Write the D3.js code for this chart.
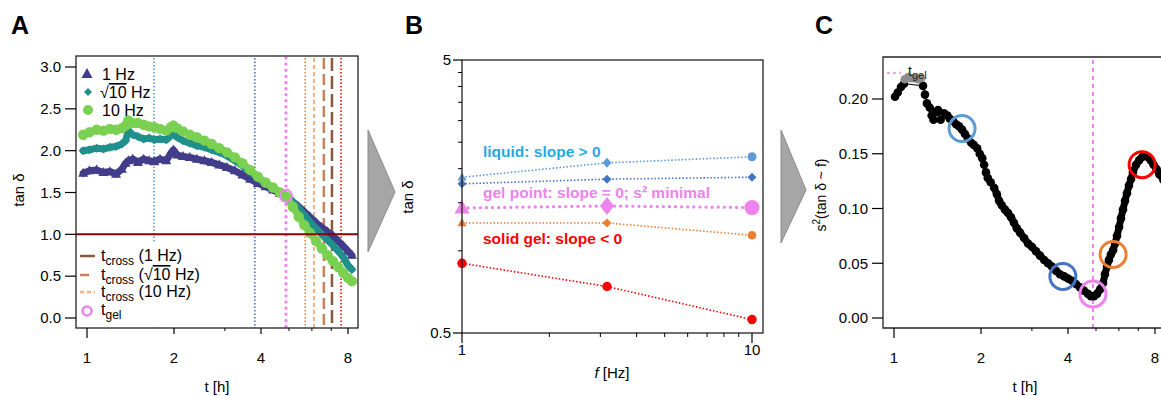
<!DOCTYPE html>
<html>
<head>
<meta charset="utf-8">
<script src="https://cdn.jsdelivr.net/npm/d3@7"></script>
<style>
    body { margin: 0; background: #fff; }
    svg { font-family: Arial, 'Liberation Sans', sans-serif; }
</style>
</head>
<body>
<script>
// panel A: tan delta over time, three frequencies
var timeA = [0.97, 1.02, 1.08, 1.14, 1.2, 1.26, 1.32, 1.36, 1.39, 1.44, 1.5, 1.57, 1.64, 1.71, 1.79, 1.88, 1.95, 1.99, 2.05, 2.15, 2.27, 2.4, 2.55, 2.7, 2.87, 3.05, 3.25, 3.45, 3.67, 3.9, 4.15, 4.4, 4.65, 4.9, 5.15, 5.4, 5.65, 5.9, 6.2, 6.5, 6.8, 7.1, 7.4, 7.7, 8.0, 8.25]
var tan1Hz = [1.73, 1.76, 1.77, 1.74, 1.75, 1.72, 1.78, 1.85, 1.88, 1.90, 1.86, 1.90, 1.88, 1.87, 1.90, 1.88, 1.97, 2.01, 1.95, 1.93, 1.92, 1.90, 1.88, 1.86, 1.83, 1.80, 1.76, 1.71, 1.66, 1.61, 1.57, 1.53, 1.49, 1.45, 1.39, 1.33, 1.27, 1.21, 1.14, 1.08, 1.03, 0.98, 0.92, 0.86, 0.80, 0.75]
var tanSqrt10Hz = [2.00, 2.01, 2.03, 2.02, 2.04, 2.05, 2.08, 2.12, 2.24, 2.19, 2.17, 2.14, 2.15, 2.13, 2.14, 2.13, 2.18, 2.20, 2.16, 2.12, 2.09, 2.06, 2.04, 2.01, 1.98, 1.94, 1.88, 1.82, 1.75, 1.67, 1.61, 1.55, 1.50, 1.45, 1.39, 1.31, 1.23, 1.15, 1.07, 1.00, 0.93, 0.87, 0.80, 0.73, 0.63, 0.58]
var tan10Hz = [2.19, 2.22, 2.25, 2.24, 2.26, 2.25, 2.27, 2.30, 2.36, 2.33, 2.33, 2.31, 2.29, 2.28, 2.26, 2.24, 2.28, 2.30, 2.27, 2.23, 2.19, 2.16, 2.12, 2.08, 2.03, 1.98, 1.92, 1.85, 1.77, 1.69, 1.62, 1.56, 1.50, 1.45, 1.33, 1.21, 1.11, 1.02, 0.92, 0.83, 0.75, 0.68, 0.61, 0.54, 0.48, 0.44]

// time markers drawn as vertical lines in A
var markerNames = ['liquid', 'liquid2', 'gel', 'before', 'cross10', 'crossSqrt10', 'cross1', 'solid']
var markerTimes = [1.705, 3.81, 4.88, 5.69, 6.1, 6.6, 7.04, 7.57]
var tGel = 4.88
var tanGel = 1.46
var tanCrossLevel = 1.0

var ticksA = [0, 0.5, 1.0, 1.5, 2.0, 2.5, 3.0]
var ticksTime = [1, 2, 4, 8]
var minorTime = [3, 5, 6, 7]

// panel B: tan delta against frequency at chosen times
var freqs = [1, Math.sqrt(10), 10]
var liquidA = [1.86, 2.10, 2.21]
var liquidB = [1.76, 1.83, 1.86]
var gelPoint = [1.435, 1.46, 1.44]
var nearGel = [1.265, 1.265, 1.14]
var solidGel = [0.90, 0.74, 0.56]
var ticksB = [0.5, 5]
var minorB = [1, 1.5, 2, 2.5, 3, 3.5, 4, 4.5]
var minorFreq = [2, 3, 4, 5, 6, 7, 8, 9]

// panel C: variance of tan delta across frequency
var timeCgrey = [1.09, 1.12, 1.15, 1.18, 1.21, 1.24]
var s2Cgrey = [0.218, 0.220, 0.219, 0.219, 0.218, 0.219]
var timeC = [1.008, 1.03, 1.057, 1.083, 1.26, 1.28, 1.30, 1.33, 1.35, 1.37, 1.40, 1.42, 1.45, 1.49, 1.53, 1.56, 1.60, 1.64, 1.68, 1.72, 1.76, 1.80, 1.85, 1.89, 1.94, 1.98, 2.02, 2.05, 2.08, 2.11, 2.16, 2.22, 2.27, 2.31, 2.36, 2.42, 2.48, 2.54, 2.60, 2.66, 2.73, 2.82, 2.91, 3.0, 3.10, 3.20, 3.31, 3.41, 3.52, 3.64, 3.75, 3.88, 4.0, 4.13, 4.26, 4.40, 4.54, 4.69, 4.80, 4.92, 5.04, 5.16, 5.29, 5.37, 5.46, 5.54, 5.63, 5.73, 5.82, 5.91, 6.01, 6.10, 6.20, 6.30, 6.40, 6.50, 6.61, 6.71, 6.88, 7.05, 7.22, 7.39, 7.56, 7.73, 7.91, 8.10, 8.29, 8.56]
var s2C = [0.202, 0.206, 0.211, 0.214, 0.212, 0.204, 0.196, 0.192, 0.185, 0.181, 0.188, 0.190, 0.181, 0.187, 0.185, 0.182, 0.180, 0.177, 0.175, 0.172, 0.168, 0.164, 0.160, 0.158, 0.155, 0.150, 0.146, 0.140, 0.133, 0.128, 0.124, 0.119, 0.113, 0.107, 0.103, 0.099, 0.096, 0.092, 0.087, 0.082, 0.078, 0.073, 0.068, 0.065, 0.061, 0.057, 0.053, 0.050, 0.047, 0.043, 0.040, 0.038, 0.036, 0.034, 0.031, 0.028, 0.025, 0.022, 0.020, 0.020, 0.022, 0.026, 0.032, 0.040, 0.047, 0.053, 0.058, 0.062, 0.068, 0.075, 0.083, 0.091, 0.099, 0.107, 0.114, 0.121, 0.127, 0.133, 0.140, 0.144, 0.147, 0.148, 0.147, 0.144, 0.140, 0.136, 0.131, 0.126]
var circleTimes = [1.72, 3.84, 4.88, 5.73, 7.22]
var circleS2 = [0.173, 0.038, 0.022, 0.058, 0.140]
var ticksC = [0, 0.05, 0.10, 0.15, 0.20]
// after this time the points sit so close that they form a solid band
var denseFrom = 2.2

var W = 1161, H = 396
var svg = d3.select('body').append('svg').attr('width', W).attr('height', H)

var colNavy = '#413d8b', colTeal = '#21908c', colGreen = '#7ad151'
var markerStyle = {
    liquid: {c: '#5b9bd5', w: 1.6, dash: '1.5,2', cap: 'butt'},
    liquid2: {c: '#4472c4', w: 1.6, dash: '1.5,2', cap: 'butt'},
    gel: {c: '#ee82ee', w: 3.2, dash: '0.1,6', cap: 'round'},
    before: {c: '#ed7d31', w: 1.6, dash: '1.5,2', cap: 'butt'},
    cross10: {c: '#f4b183', w: 2, dash: '4,3', cap: 'butt'},
    crossSqrt10: {c: '#c8825a', w: 2.5, dash: '11,5', cap: 'butt'},
    cross1: {c: '#8b5a3c', w: 2.5, dash: '13,5', cap: 'butt'},
    solid: {c: '#ff0000', w: 1.6, dash: '1.5,2', cap: 'butt'}
}

function triPath(w) {
    var h = w * 0.9
    return 'M0,' + (-h * 0.6) + 'L' + (w / 2) + ',' + (h * 0.4) + 'L' + (-w / 2) + ',' + (h * 0.4) + 'Z'
}
function diaPath(w, h) {
    return 'M0,' + (-h / 2) + 'L' + (w / 2) + ',0L0,' + (h / 2) + 'L' + (-w / 2) + ',0Z'
}
function cirPath(r) {
    return 'M' + (-r) + ',0A' + r + ',' + r + ' 0 1,0 ' + r + ',0A' + r + ',' + r + ' 0 1,0 ' + (-r) + ',0Z'
}

function zip(xs, ys) {
    return xs.map((x, i) => ({x: x, y: ys[i]}))
}

function panelLetter(txt, x) {
    svg.append('text').attr('x', x).attr('y', 34)
        .attr('font-size', 25).attr('font-weight', 'bold').text(txt)
}

function timeAxis(g, x, yBottom, labelY, titleX) {
    g.selectAll('line.tmaj').data(ticksTime).enter().append('line')
        .attr('x1', d => x(d)).attr('x2', d => x(d))
        .attr('y1', yBottom).attr('y2', d => yBottom + (d === 1 ? 10 : 6))
        .attr('stroke', '#000').attr('stroke-width', 1.2)
    g.selectAll('line.tmin').data(minorTime).enter().append('line')
        .attr('x1', d => x(d)).attr('x2', d => x(d))
        .attr('y1', yBottom).attr('y2', yBottom + 3)
        .attr('stroke', '#000').attr('stroke-width', 1)
    g.selectAll('text.tlab').data(ticksTime).enter().append('text')
        .attr('x', d => x(d)).attr('y', labelY).attr('text-anchor', 'middle')
        .attr('font-size', 15).text(d => d)
    g.append('text').attr('x', titleX).attr('y', 392).attr('text-anchor', 'middle')
        .attr('font-size', 15).text('t [h]')
}

// ---------------- panel A ----------------
function renderA() {
    var left = 76, right = 358, top = 56, bottom = 328
    var x = d3.scaleLog().base(2).domain([1, 8]).range([87, 348])
    var y = d3.scaleLinear().domain([0, 3]).range([318, 67])
    var g = svg.append('g')

    g.append('clipPath').attr('id', 'clipA').append('rect')
        .attr('x', left).attr('y', top).attr('width', right - left).attr('height', bottom - top)
    var plot = g.append('g').attr('clip-path', 'url(#clipA)')

    // vertical markers
    markerTimes.forEach((t, i) => {
        var s = markerStyle[markerNames[i]]
        plot.append('line').attr('x1', x(t)).attr('x2', x(t))
            .attr('y1', top + 2).attr('y2', bottom)
            .attr('stroke', s.c).attr('stroke-width', s.w).attr('stroke-dasharray', s.dash)
            .attr('stroke-linecap', s.cap)
    })

    var line = d3.line().x(d => x(d.x)).y(d => y(d.y))
    var series = [
        {data: zip(timeA, tan1Hz), c: colNavy, shape: triPath(10)},
        {data: zip(timeA, tanSqrt10Hz), c: colTeal, shape: diaPath(9, 9)},
        {data: zip(timeA, tan10Hz), c: colGreen, shape: cirPath(5.2)}
    ]
    series.forEach(s => {
        plot.append('path').datum(s.data).attr('d', line)
            .attr('fill', 'none').attr('stroke', s.c).attr('stroke-width', 7)
            .attr('stroke-linejoin', 'round').attr('stroke-linecap', 'round')
        plot.selectAll(null).data(s.data).enter().append('path')
            .attr('transform', d => 'translate(' + x(d.x) + ',' + y(d.y) + ')')
            .attr('d', s.shape).attr('fill', s.c)
    })

    // crossover level
    plot.append('line').attr('x1', left).attr('x2', right)
        .attr('y1', y(tanCrossLevel)).attr('y2', y(tanCrossLevel))
        .attr('stroke', '#8b0000').attr('stroke-width', 2)

    // gel point marker
    plot.append('circle').attr('cx', x(tGel)).attr('cy', y(tanGel)).attr('r', 6)
        .attr('fill', 'none').attr('stroke', '#ee82ee').attr('stroke-width', 2)

    // legend bottom has an opaque background
    plot.append('rect').attr('x', left + 1).attr('y', 243).attr('width', 124).attr('height', bottom - 244)
        .attr('fill', '#fff')

    g.append('rect').attr('x', left).attr('y', top).attr('width', right - left).attr('height', bottom - top)
        .attr('fill', 'none').attr('stroke', '#222').attr('stroke-width', 1.3)

    g.selectAll('line.ytick').data(ticksA).enter().append('line')
        .attr('x1', left - 11).attr('x2', left).attr('y1', d => y(d)).attr('y2', d => y(d))
        .attr('stroke', '#000').attr('stroke-width', 1.2)
    g.selectAll('text.ylab').data(ticksA).enter().append('text')
        .attr('x', left - 15).attr('y', d => y(d)).attr('dy', '0.35em').attr('text-anchor', 'end')
        .attr('font-size', 15).text(d => d.toFixed(1))
    g.append('text').attr('transform', 'translate(24,190) rotate(-90)')
        .attr('text-anchor', 'middle').attr('font-size', 15).text('tan δ')

    timeAxis(g, x, bottom, 363, 217)

    // legend top
    var lg = g.append('g')
    lg.append('path').attr('transform', 'translate(87,74)').attr('d', triPath(11)).attr('fill', colNavy)
    lg.append('path').attr('transform', 'translate(88,92)').attr('d', diaPath(8, 8)).attr('fill', colTeal)
    lg.append('path').attr('transform', 'translate(88,110)').attr('d', cirPath(5)).attr('fill', colGreen)
    lg.append('text').attr('x', 102).attr('y', 80).attr('font-size', 16).text('1 Hz')
    var t2 = lg.append('text').attr('x', 100).attr('y', 98).attr('font-size', 16)
    t2.append('tspan').text('√')
    t2.append('tspan').style('text-decoration', 'overline').text('10')
    t2.append('tspan').text(' Hz')
    lg.append('text').attr('x', 102).attr('y', 116).attr('font-size', 16).text('10 Hz')

    // legend bottom
    var lb = g.append('g')
    var rows = [
        {y: 256, s: markerStyle.cross1, dash: null, label: ' (1 Hz)'},
        {y: 275, s: markerStyle.crossSqrt10, dash: '9,20', label: null},
        {y: 292, s: markerStyle.cross10, dash: '4,3', label: ' (10 Hz)'}
    ]
    rows.forEach(r => {
        lb.append('line').attr('x1', 80).attr('x2', 95).attr('y1', r.y).attr('y2', r.y)
            .attr('stroke', r.s.c).attr('stroke-width', 2.5).attr('stroke-dasharray', r.dash)
        var tx = lb.append('text').attr('x', 101).attr('y', r.y + 5).attr('font-size', 16)
        tx.append('tspan').text('t')
        tx.append('tspan').attr('dy', 4).attr('font-size', 12).text('cross')
        if (r.label) {
            tx.append('tspan').attr('dy', -4).text(r.label)
        } else {
            tx.append('tspan').attr('dy', -4).text(' (')
            tx.append('tspan').text('√')
            tx.append('tspan').style('text-decoration', 'overline').text('10')
            tx.append('tspan').text('  Hz)')
        }
    })
    lb.append('circle').attr('cx', 87).attr('cy', 311).attr('r', 4.5)
        .attr('fill', 'none').attr('stroke', '#ee82ee').attr('stroke-width', 2.5)
    var tg = lb.append('text').attr('x', 101).attr('y', 315).attr('font-size', 16)
    tg.append('tspan').text('t')
    tg.append('tspan').attr('dy', 4).attr('font-size', 12).text('gel')
}

// ---------------- panel B ----------------
function renderB() {
    var left = 462, right = 763, top = 60, bottom = 333
    var x = d3.scaleLog().domain([1, 10]).range([462, 752])
    var y = d3.scaleLog().domain([0.5, 5]).range([333, 60])
    var g = svg.append('g')

    var line = d3.line().x(d => x(d.x)).y(d => y(d.y))
    var groups = [
        {vals: liquidA, c: '#5b9bd5', w: 1.6, dash: '1.5,2', cap: 'butt', shapes: [triPath(9), diaPath(9, 10), cirPath(4.5)]},
        {vals: liquidB, c: '#4472c4', w: 1.6, dash: '1.5,2', cap: 'butt', shapes: [diaPath(9, 9), diaPath(9, 9), diaPath(9, 9)]},
        {vals: gelPoint, c: '#ee82ee', w: 3.2, dash: '0.1,6', cap: 'round', shapes: [triPath(15), diaPath(14, 18), cirPath(7.5)]},
        {vals: nearGel, c: '#ed7d31', w: 1.6, dash: '1.5,2', cap: 'butt', shapes: [triPath(9), diaPath(9, 9), cirPath(4.3)]},
        {vals: solidGel, c: '#ff0000', w: 1.6, dash: '1.5,2', cap: 'butt', shapes: [cirPath(4.7), cirPath(4.7), cirPath(4.7)]}
    ]
    groups.forEach(gr => {
        var pts = zip(freqs, gr.vals)
        g.append('path').datum(pts).attr('d', line).attr('fill', 'none')
            .attr('stroke', gr.c).attr('stroke-width', gr.w).attr('stroke-dasharray', gr.dash)
            .attr('stroke-linecap', gr.cap)
        g.selectAll(null).data(pts).enter().append('path')
            .attr('transform', d => 'translate(' + x(d.x) + ',' + y(d.y) + ')')
            .attr('d', (d, i) => gr.shapes[i]).attr('fill', gr.c)
    })

    g.append('text').attr('x', 483).attr('y', 157).attr('font-size', 15.5).attr('font-weight', 'bold')
        .attr('fill', '#29a9e1').text('liquid: slope > 0')
    g.append('text').attr('x', 483).attr('y', 198).attr('font-size', 15.5).attr('font-weight', 'bold')
        .attr('fill', '#ee82ee').text('gel point: slope = 0; s² minimal')
    g.append('text').attr('x', 483).attr('y', 244).attr('font-size', 15.5).attr('font-weight', 'bold')
        .attr('fill', '#ff0000').text('solid gel: slope < 0')

    g.append('rect').attr('x', left).attr('y', top).attr('width', right - left).attr('height', bottom - top)
        .attr('fill', 'none').attr('stroke', '#222').attr('stroke-width', 1.3)

    g.selectAll('line.ymaj').data(ticksB).enter().append('line')
        .attr('x1', left - 9).attr('x2', left).attr('y1', d => y(d)).attr('y2', d => y(d))
        .attr('stroke', '#000').attr('stroke-width', 1.2)
    g.selectAll('line.ymin').data(minorB).enter().append('line')
        .attr('x1', left - 4).attr('x2', left).attr('y1', d => y(d)).attr('y2', d => y(d))
        .attr('stroke', '#000').attr('stroke-width', 1)
    g.selectAll('text.ylab').data(ticksB).enter().append('text')
        .attr('x', left - 11).attr('y', d => y(d)).attr('dy', '0.35em').attr('text-anchor', 'end')
        .attr('font-size', 15).text(d => d)
    g.append('text').attr('transform', 'translate(413,197) rotate(-90)')
        .attr('text-anchor', 'middle').attr('font-size', 15).text('tan δ')

    g.selectAll('line.xmaj').data([1, 10]).enter().append('line')
        .attr('x1', d => x(d)).attr('x2', d => x(d)).attr('y1', bottom).attr('y2', bottom + 10)
        .attr('stroke', '#000').attr('stroke-width', 1.2)
    g.selectAll('line.xmin').data(minorFreq).enter().append('line')
        .attr('x1', d => x(d)).attr('x2', d => x(d)).attr('y1', bottom).attr('y2', bottom + 4)
        .attr('stroke', '#000').attr('stroke-width', 1)
    g.selectAll('text.xlab').data([1, 10]).enter().append('text')
        .attr('x', d => x(d)).attr('y', 355).attr('text-anchor', 'middle')
        .attr('font-size', 15).text(d => d)
    var xt = g.append('text').attr('x', 612).attr('y', 378).attr('text-anchor', 'middle').attr('font-size', 15)
    xt.append('tspan').attr('font-style', 'italic').text('f')
    xt.append('tspan').text(' [Hz]')
}

// ---------------- panel C ----------------
function renderC() {
    var left = 883, right = 1180, top = 57, bottom = 328
    var x = d3.scaleLog().base(2).domain([1, 8]).range([894, 1155])
    var y = d3.scaleLinear().domain([0, 0.2]).range([318, 99])
    var g = svg.append('g')

    g.append('line').attr('x1', x(tGel)).attr('x2', x(tGel)).attr('y1', top + 3).attr('y2', bottom)
        .attr('stroke', '#ee82ee').attr('stroke-width', 2).attr('stroke-dasharray', '4,4')

    var line = d3.line().x(d => x(d.x)).y(d => y(d.y))
    var pts = zip(timeC, s2C)
    var grey = zip(timeCgrey, s2Cgrey)
    g.append('path').datum(pts).attr('d', line).attr('fill', 'none')
        .attr('stroke', '#000').attr('stroke-width', 1)
    g.append('path').datum(pts.filter(d => d.x >= denseFrom)).attr('d', line).attr('fill', 'none')
        .attr('stroke', '#000').attr('stroke-width', 7).attr('stroke-linejoin', 'round')
    g.selectAll('circle.pt').data(pts).enter().append('circle')
        .attr('cx', d => x(d.x)).attr('cy', d => y(d.y)).attr('r', 4.3).attr('fill', '#000')
    g.selectAll('circle.gpt').data(grey).enter().append('circle')
        .attr('cx', d => x(d.x)).attr('cy', d => y(d.y)).attr('r', 4.3).attr('fill', '#8c8c8c')

    var ringCols = ['#5b9bd5', '#4472c4', '#ee82ee', '#ed7d31', '#ff0000']
    g.selectAll('circle.ring').data(zip(circleTimes, circleS2)).enter().append('circle')
        .attr('cx', d => x(d.x)).attr('cy', d => y(d.y)).attr('r', 13)
        .attr('fill', 'none').attr('stroke', (d, i) => ringCols[i]).attr('stroke-width', 3)

    // legend entry for t_gel
    g.append('line').attr('x1', 887).attr('x2', 901).attr('y1', 73).attr('y2', 73)
        .attr('stroke', '#ee82ee').attr('stroke-width', 1.5).attr('stroke-dasharray', '3,3')
    var tl = g.append('text').attr('x', 908).attr('y', 76).attr('font-size', 14).attr('fill', '#222')
    tl.append('tspan').text('t')
    tl.append('tspan').attr('dy', 3).attr('font-size', 11).text('gel')

    g.append('path').attr('d', 'M' + right + ',' + top + 'H' + left + 'V' + bottom + 'H' + right)
        .attr('fill', 'none').attr('stroke', '#222').attr('stroke-width', 1.3)

    g.selectAll('line.ytick').data(ticksC).enter().append('line')
        .attr('x1', left - 11).attr('x2', left).attr('y1', d => y(d)).attr('y2', d => y(d))
        .attr('stroke', '#000').attr('stroke-width', 1.2)
    g.selectAll('text.ylab').data(ticksC).enter().append('text')
        .attr('x', left - 15).attr('y', d => y(d)).attr('dy', '0.35em').attr('text-anchor', 'end')
        .attr('font-size', 15).text(d => d.toFixed(2))
    var yt = g.append('text').attr('transform', 'translate(826,195) rotate(-90)')
        .attr('text-anchor', 'middle').attr('font-size', 14)
    yt.append('tspan').text('s')
    yt.append('tspan').attr('dy', -6).attr('font-size', 10).text('2')
    yt.append('tspan').attr('dy', 6).text('(tan δ ~ f)')

    timeAxis(g, x, bottom, 363, 1025)
}

function renderArrows() {
    var arrows = [[368, 130, 395, 192, 368, 252], [781, 130, 806, 190, 781, 243]]
    svg.selectAll('path.arrow').data(arrows).enter().append('path')
        .attr('d', a => 'M' + a[0] + ',' + a[1] + 'L' + a[2] + ',' + a[3] + 'L' + a[4] + ',' + a[5] + 'Z')
        .attr('fill', '#a6a6a6').attr('stroke', '#8c8c8c').attr('stroke-width', 1)
}

renderArrows()
renderA()
renderB()
renderC()
panelLetter('A', 11)
panelLetter('B', 405)
panelLetter('C', 815)
</script>
</body>
</html>
